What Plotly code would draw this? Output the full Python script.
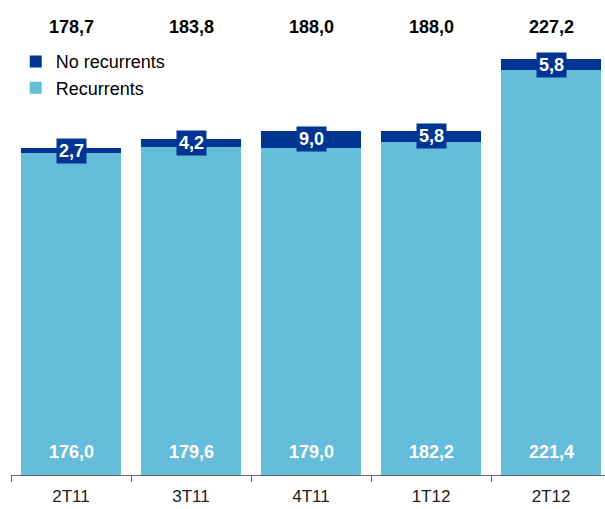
import plotly.graph_objects as go

periods = ["2T11", "3T11", "4T11", "1T12", "2T12"]
recurrents = [176.0, 179.6, 179.0, 182.2, 221.4]
no_recurrents = [2.7, 4.2, 9.0, 5.8, 5.8]
totals = [178.7, 183.8, 188.0, 188.0, 227.2]

LIGHT = "#65BDDB"
DARK = "#003594"


def fmt(v):
    return f"{v:.1f}".replace(".", ",")


fig = go.Figure()

fig.add_trace(go.Bar(
    x=periods, y=recurrents, name="Recurrents",
    marker=dict(color=LIGHT, line=dict(width=0)),
    hoverinfo="skip",
))
fig.add_trace(go.Bar(
    x=periods, y=no_recurrents, name="No recurrents",
    marker=dict(color=DARK, line=dict(width=0)),
    hoverinfo="skip",
))

# valors recurrents a la base de la barra
for p, r in zip(periods, recurrents):
    fig.add_annotation(
        x=p, y=0, yshift=23, text=f"<b>{fmt(r)}</b>", showarrow=False,
        font=dict(family="Arial", size=18, color="white"),
    )

# valors no recurrents amb caixa fosca
for p, r, n in zip(periods, recurrents, no_recurrents):
    fig.add_annotation(
        x=p, y=r + n / 2, text=f"<b>{fmt(n)}</b>", showarrow=False,
        font=dict(family="Arial", size=18, color="white"),
        bgcolor=DARK, borderpad=2,
    )

# totals a dalt
for p, t in zip(periods, totals):
    fig.add_annotation(
        x=p, y=0.943, yref="paper", yanchor="middle",
        text=f"<b>{fmt(t)}</b>", showarrow=False,
        font=dict(family="Arial", size=18, color="black"),
    )

fig.update_layout(
    barmode="stack",
    bargap=0.167,
    width=605, height=509,
    margin=dict(l=11, r=0, t=0, b=34, autoexpand=False),
    paper_bgcolor="white",
    plot_bgcolor="white",
    showlegend=True,
    legend=dict(
        x=0.008, y=0.909, xanchor="left", yanchor="top",
        traceorder="reversed",
        font=dict(family="Arial", size=18, color="black"),
        itemwidth=30, tracegroupgap=0,
        bgcolor="rgba(0,0,0,0)",
    ),
    xaxis=dict(
        range=[-0.5, 4.45], automargin=False,
        showline=True, linecolor="#666666", linewidth=1,
        ticks="outside", tickson="boundaries", ticklen=6,
        tickcolor="#666666", ticklabelstandoff=6,
        tickfont=dict(family="Arial", size=17, color="#222222"),
        showgrid=False, zeroline=False,
    ),
    yaxis=dict(
        range=[0, 259.7], visible=False, showgrid=False, zeroline=False,
        automargin=False,
    ),
)

fig.write_html("out.html", config={"displayModeBar": False},
               post_script="document.body.style.margin='0px';")
